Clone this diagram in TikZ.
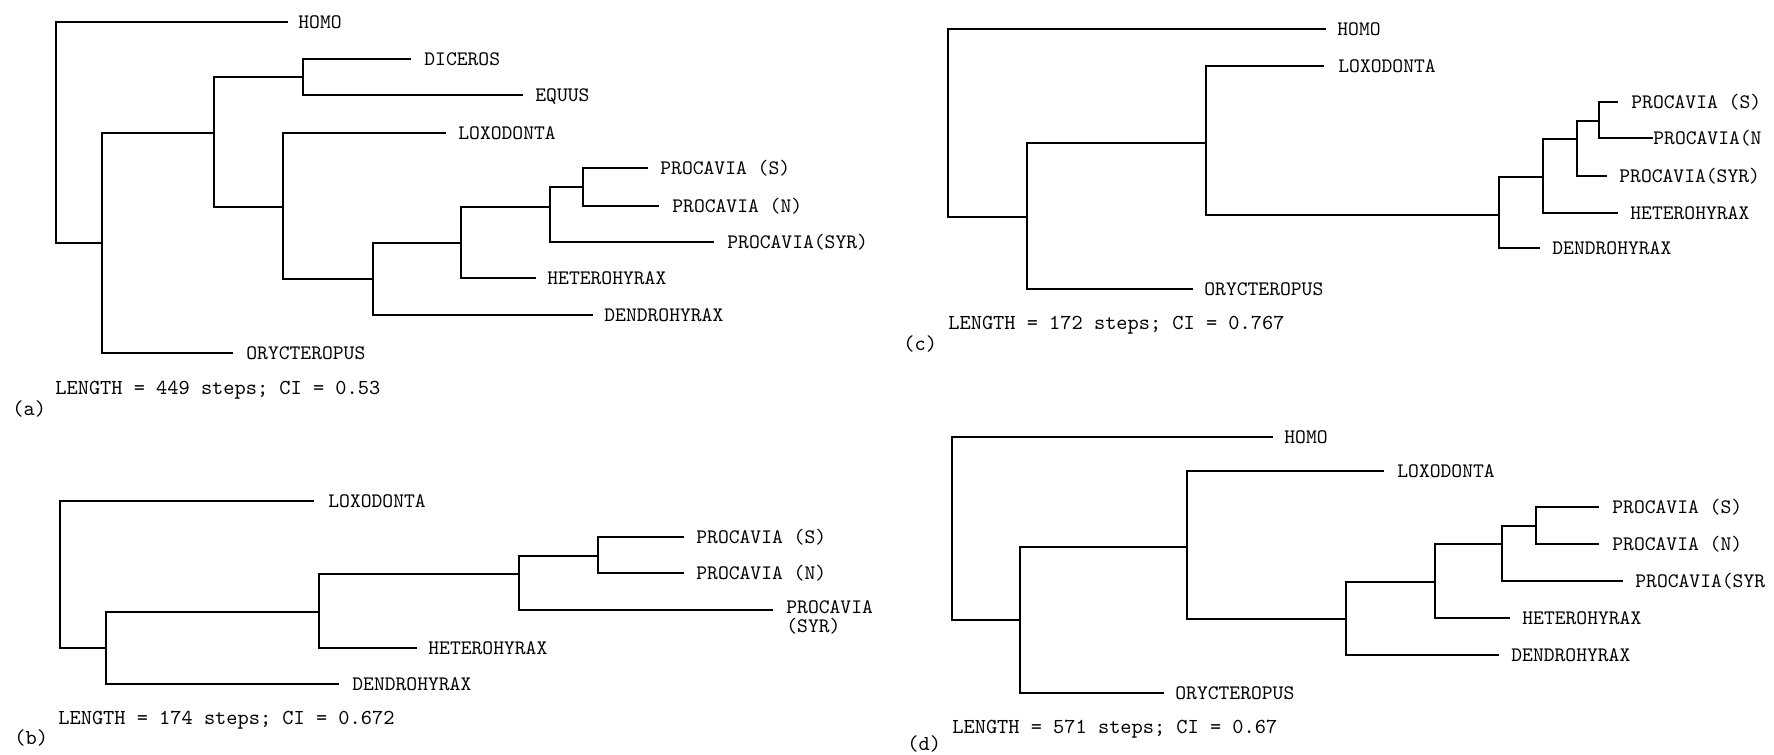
\documentclass[tikz,border=0pt]{standalone}
\usepackage{fontspec}
\begin{document}
\begin{tikzpicture}[x=0.5pt,y=-0.5pt,
  br/.style={line width=0.9pt, line join=miter, line cap=rect},
  lab/.style={anchor=base west, inner sep=0pt, yshift=-3pt, font={\ttfamily\fontsize{10.3pt}{12pt}\selectfont}},
  capt/.style={anchor=base west, inner sep=0pt, yshift=-3pt, font={\ttfamily\fontsize{10.67pt}{12pt}\selectfont}}]
\useasboundingbox (0,0) rectangle (1774,755);

% ---------------- (a) ----------------
\coordinate (a0) at (56,243);
\coordinate (a1) at (102,243);
\coordinate (a2) at (214,133);
\coordinate (a3) at (303,77);
\coordinate (a4) at (283,207);
\coordinate (a5) at (373,279);
\coordinate (a6) at (461,243);
\coordinate (a7) at (550,207);
\coordinate (a8) at (583,187);
\coordinate (aHomo) at (287,22);
\coordinate (aDic) at (410,59);
\coordinate (aEqu) at (522,95);
\coordinate (aLox) at (445,133);
\coordinate (aPS) at (647,168);
\coordinate (aPN) at (658,206);
\coordinate (aSyr) at (713,242);
\coordinate (aHet) at (535,278);
\coordinate (aDen) at (592,315);
\coordinate (aOry) at (232,353);
\draw[br] (aHomo) -| (a0) -- (a1);
\draw[br] (a2) -| (a1) |- (aOry);
\draw[br] (a3) -| (a2) |- (a4);
\draw[br] (aDic) -| (a3) |- (aEqu);
\draw[br] (aLox) -| (a4) |- (a5);
\draw[br] (a6) -| (a5) |- (aDen);
\draw[br] (a7) -| (a6) |- (aHet);
\draw[br] (a8) -| (a7) |- (aSyr);
\draw[br] (aPS) -| (a8) |- (aPN);
\node[lab] (aHomoL) at (298,22) {HOMO};
\node[lab] (aDicL) at (424,59) {DICEROS};
\node[lab] (aEquL) at (535,95) {EQUUS};
\node[lab] (aLoxL) at (458,133) {LOXODONTA};
\node[lab] (aPSL) at (660,168) {PROCAVIA (S)};
\node[lab] (aPNL) at (672,206) {PROCAVIA (N)};
\node[lab] (aSyrL) at (727,242) {PROCAVIA(SYR)};
\node[lab] (aHetL) at (547,278) {HETEROHYRAX};
\node[lab] (aDenL) at (604,315) {DENDROHYRAX};
\node[lab] (aOryL) at (246,353) {ORYCTEROPUS};
\node[capt] (aCap) at (55,388) {LENGTH = 449 steps; CI = 0.53};
\node[capt] (aTag) at (12,409) {(a)};

% ---------------- (b) ----------------
\coordinate (b0) at (60,648);
\coordinate (b1) at (106,648);
\coordinate (b2) at (319,612);
\coordinate (b3) at (519,574);
\coordinate (b4) at (598,556);
\coordinate (bLox) at (313,501);
\coordinate (bDen) at (338,684);
\coordinate (bHet) at (416,648);
\coordinate (bSyr) at (772,610);
\coordinate (bPS) at (683,537);
\coordinate (bPN) at (683,573);
\draw[br] (bLox) -| (b0) -- (b1);
\draw[br] (b2) -| (b1) |- (bDen);
\draw[br] (b3) -| (b2) |- (bHet);
\draw[br] (b4) -| (b3) |- (bSyr);
\draw[br] (bPS) -| (b4) |- (bPN);
\node[lab] (bLoxL) at (328,501) {LOXODONTA};
\node[lab] (bPSL) at (696,537) {PROCAVIA (S)};
\node[lab] (bPNL) at (696,573) {PROCAVIA (N)};
\node[lab] (bSyrL1) at (786,607) {PROCAVIA};
\node[lab] (bSyrL2) at (786,626) {(SYR)};
\node[lab] (bHetL) at (428,648) {HETEROHYRAX};
\node[lab] (bDenL) at (352,684) {DENDROHYRAX};
\node[capt] (bCap) at (58,718) {LENGTH = 174 steps; CI = 0.672};
\node[capt] (bTag) at (14,738) {(b)};

% ---------------- (c) ----------------
\coordinate (c0) at (948,217);
\coordinate (c1) at (1027,217);
\coordinate (c2) at (1206,143);
\coordinate (c3) at (1499,215);
\coordinate (c4) at (1543,177);
\coordinate (c5) at (1577,139);
\coordinate (c6) at (1599,121);
\coordinate (cHomo) at (1325,29);
\coordinate (cLox) at (1323,66);
\coordinate (cOry) at (1192,289);
\coordinate (cDen) at (1539,248);
\coordinate (cHet) at (1617,213);
\coordinate (cSyr) at (1606,176);
\coordinate (cPS) at (1617,102);
\coordinate (cPN) at (1652,138);
\draw[br] (cHomo) -| (c0) -- (c1);
\draw[br] (c2) -| (c1) |- (cOry);
\draw[br] (cLox) -| (c2) |- (c3);
\draw[br] (c4) -| (c3) |- (cDen);
\draw[br] (c5) -| (c4) |- (cHet);
\draw[br] (c6) -| (c5) |- (cSyr);
\draw[br] (cPS) -| (c6) |- (cPN);
\node[lab] (cHomoL) at (1337,29) {HOMO};
\node[lab] (cLoxL) at (1338,66) {LOXODONTA};
\node[lab] (cPSL) at (1631,102) {PROCAVIA (S)};
\node[lab] (cPNL) at (1653,138) {PROCAVIA(N};
\node[lab] (cSyrL) at (1619,176) {PROCAVIA(SYR)};
\node[lab] (cHetL) at (1630,213) {HETEROHYRAX};
\node[lab] (cDenL) at (1552,248) {DENDROHYRAX};
\node[lab] (cOryL) at (1204,289) {ORYCTEROPUS};
\node[capt] (cCap) at (948,323) {LENGTH = 172 steps; CI = 0.767};
\node[capt] (cTag) at (903,344) {(c)};

% ---------------- (d) ----------------
\coordinate (d0) at (952,620);
\coordinate (d1) at (1020,620);
\coordinate (d2) at (1187,547);
\coordinate (d3) at (1346,619);
\coordinate (d4) at (1435,582);
\coordinate (d5) at (1502,544);
\coordinate (d6) at (1536,526);
\coordinate (dHomo) at (1272,437);
\coordinate (dLox) at (1383,471);
\coordinate (dOry) at (1163,693);
\coordinate (dDen) at (1498,655);
\coordinate (dHet) at (1509,618);
\coordinate (dSyr) at (1622,581);
\coordinate (dPS) at (1598,507);
\coordinate (dPN) at (1598,544);
\draw[br] (dHomo) -| (d0) -- (d1);
\draw[br] (d2) -| (d1) |- (dOry);
\draw[br] (dLox) -| (d2) |- (d3);
\draw[br] (d4) -| (d3) |- (dDen);
\draw[br] (d5) -| (d4) |- (dHet);
\draw[br] (d6) -| (d5) |- (dSyr);
\draw[br] (dPS) -| (d6) |- (dPN);
\node[lab] (dHomoL) at (1284,437) {HOMO};
\node[lab] (dLoxL) at (1397,471) {LOXODONTA};
\node[lab] (dPSL) at (1612,507) {PROCAVIA (S)};
\node[lab] (dPNL) at (1612,544) {PROCAVIA (N)};
\node[lab] (dSyrL) at (1635,581) {PROCAVIA(SYR};
\node[lab] (dHetL) at (1522,618) {HETEROHYRAX};
\node[lab] (dDenL) at (1511,655) {DENDROHYRAX};
\node[lab] (dOryL) at (1175,693) {ORYCTEROPUS};
\node[capt] (dCap) at (952,727) {LENGTH = 571 steps; CI = 0.67};
\node[capt] (dTag) at (907,744) {(d)};
\end{tikzpicture}
\end{document}
